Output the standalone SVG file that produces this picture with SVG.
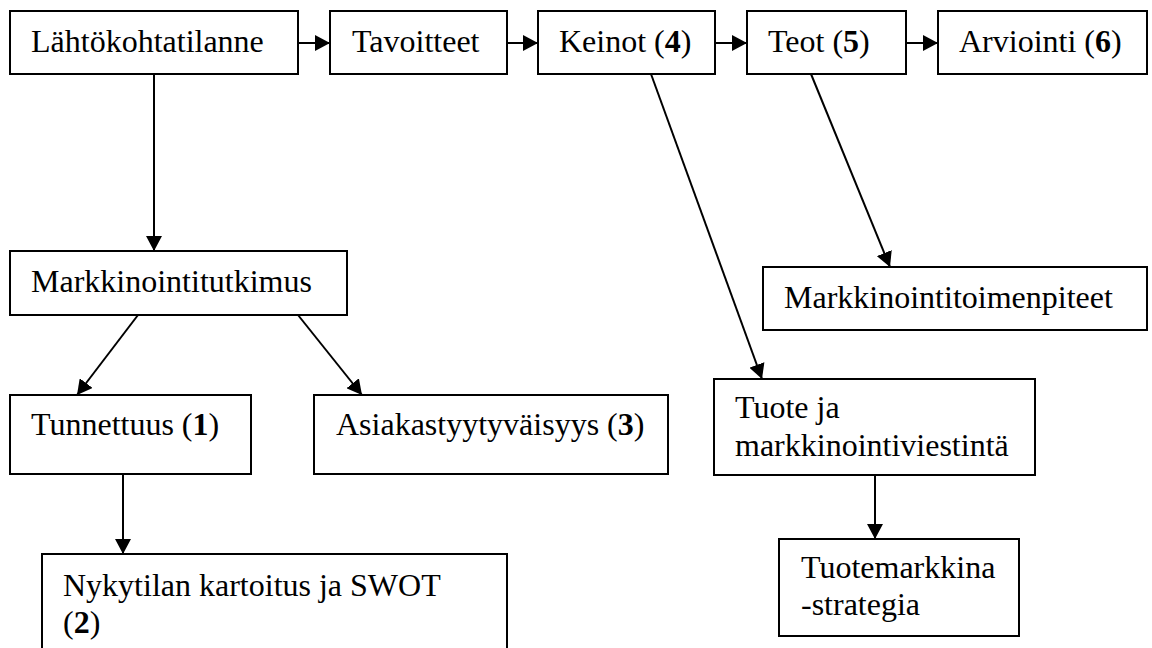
<svg xmlns="http://www.w3.org/2000/svg" width="1152" height="648" viewBox="0 0 1152 648">
<style>
.box{fill:#fff;stroke:#000;stroke-width:2}
.t{font-family:"Liberation Serif","Times New Roman",serif;font-size:32px;fill:#000}
.b{font-weight:bold}
.c{fill:none;stroke:#000;stroke-width:2}
</style>
<defs>
<marker id="ah" markerUnits="userSpaceOnUse" markerWidth="16" markerHeight="16" refX="15" refY="8" orient="auto" viewBox="0 0 16 16">
<path d="M0,0 L15,8 L0,16 Z" fill="#000"/>
</marker>
</defs>
<rect width="1152" height="648" fill="#fff"/>
<g id="connectors">
<line class="c" x1="298" y1="43" x2="330" y2="43" marker-end="url(#ah)"/>
<line class="c" x1="507" y1="43" x2="538" y2="43" marker-end="url(#ah)"/>
<line class="c" x1="715" y1="43" x2="747" y2="43" marker-end="url(#ah)"/>
<line class="c" x1="906" y1="43" x2="938" y2="43" marker-end="url(#ah)"/>
<line class="c" x1="154" y1="74" x2="154" y2="251" marker-end="url(#ah)"/>
<line class="c" x1="138" y1="315" x2="77" y2="395" marker-end="url(#ah)"/>
<line class="c" x1="298" y1="315" x2="362" y2="395" marker-end="url(#ah)"/>
<line class="c" x1="123" y1="474" x2="123" y2="554" marker-end="url(#ah)"/>
<line class="c" x1="651" y1="74" x2="762" y2="379" marker-end="url(#ah)"/>
<line class="c" x1="811" y1="74" x2="890" y2="267" marker-end="url(#ah)"/>
<line class="c" x1="875" y1="475" x2="875" y2="539" marker-end="url(#ah)"/>
</g>
<g id="n-lahto"><rect class="box" x="10" y="11" width="288" height="63"/><text class="t" x="31" y="52">Lähtökohtatilanne</text></g>
<g id="n-tavoitteet"><rect class="box" x="330" y="11" width="177" height="63"/><text class="t" x="352" y="52">Tavoitteet</text></g>
<g id="n-keinot"><rect class="box" x="538" y="11" width="177" height="63"/><text class="t" x="559" y="52">Keinot (<tspan class="b">4</tspan>)</text></g>
<g id="n-teot"><rect class="box" x="747" y="11" width="159" height="63"/><text class="t" x="768" y="52">Teot (<tspan class="b">5</tspan>)</text></g>
<g id="n-arviointi"><rect class="box" x="938" y="11" width="209" height="63"/><text class="t" x="959" y="52">Arviointi (<tspan class="b">6</tspan>)</text></g>
<g id="n-tutkimus"><rect class="box" x="10" y="251" width="337" height="64"/><text class="t" x="31" y="292">Markkinointitutkimus</text></g>
<g id="n-tunnettuus"><rect class="box" x="10" y="395" width="241" height="79"/><text class="t" x="31" y="435">Tunnettuus (<tspan class="b">1</tspan>)</text></g>
<g id="n-asiakas"><rect class="box" x="314" y="395" width="354" height="79"/><text class="t" x="336" y="435">Asiakastyytyväisyys (<tspan class="b">3</tspan>)</text></g>
<g id="n-nykytila"><rect class="box" x="42" y="554" width="465" height="100"/><text class="t" x="63" y="596">Nykytilan kartoitus ja SWOT</text><text class="t" x="63" y="633">(<tspan class="b">2</tspan>)</text></g>
<g id="n-toimenpiteet"><rect class="box" x="763" y="267" width="384" height="63"/><text class="t" x="784" y="308">Markkinointitoimenpiteet</text></g>
<g id="n-tuote"><rect class="box" x="714" y="379" width="321" height="96"/><text class="t" x="735" y="418">Tuote ja</text><text class="t" x="735" y="456">markkinointiviestintä</text></g>
<g id="n-strategia"><rect class="box" x="779" y="539" width="240" height="97"/><text class="t" x="801" y="578">Tuotemarkkina</text><text class="t" x="801" y="615">-strategia</text></g>
</svg>
